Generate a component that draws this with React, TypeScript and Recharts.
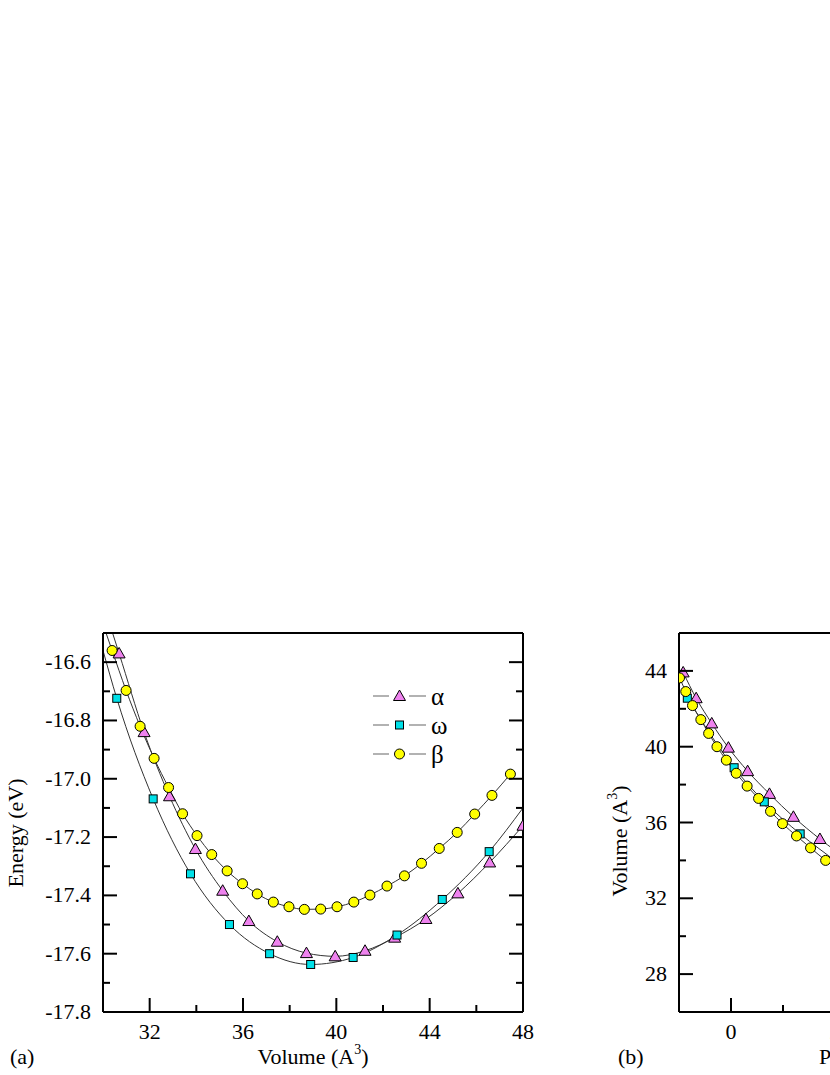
import React from "react"
import { ComposedChart, Line, Scatter, XAxis, YAxis, Legend } from "recharts"

const serif = "'Liberation Serif', 'Times New Roman', serif"

const seriesNames = ["α", "ω", "β"]
const fills = ["#EE82EE", "#00E0E8", "#FFFF00"]
const shapes = ["tri", "sq", "circ"]

// (a) energy (eV) vs volume (A^3)
const alphaVol = [30.69, 31.76, 32.85, 33.96, 35.13, 36.25, 37.47, 38.72, 39.95, 41.23, 42.5, 43.84, 45.21, 46.57, 48.0]
const alphaE = [-16.57, -16.84, -17.06, -17.241, -17.384, -17.488, -17.559, -17.598, -17.609, -17.59, -17.545, -17.481, -17.393, -17.287, -17.161]
const omegaVol = [30.59, 32.15, 33.75, 35.42, 37.14, 38.9, 40.72, 42.6, 44.54, 46.55]
const omegaE = [-16.724, -17.069, -17.326, -17.5, -17.6, -17.637, -17.613, -17.536, -17.414, -17.25]
const betaVol = [30.39, 30.99, 31.59, 32.19, 32.81, 33.41, 34.03, 34.66, 35.32, 35.98, 36.61, 37.3, 37.97, 38.63, 39.33, 40.03, 40.75, 41.44, 42.17, 42.92, 43.65, 44.41, 45.18, 45.93, 46.67, 47.46]
const betaE = [-16.56, -16.697, -16.82, -16.93, -17.03, -17.12, -17.195, -17.26, -17.316, -17.36, -17.395, -17.423, -17.439, -17.448, -17.447, -17.439, -17.423, -17.399, -17.368, -17.333, -17.29, -17.239, -17.184, -17.121, -17.057, -16.984]

// where the fitted curves run out of the frame
const alphaLeadIn = { x: 30.41, y: -16.5 }
const omegaLeadIn = { x: 30.0, y: -16.56 }
const omegaLeadOut = { x: 48.0, y: -17.1 }
const betaLeadIn = { x: 30.13, y: -16.5 }

const volTicks = [32, 34, 36, 38, 40, 42, 44, 46, 48]
const volLabels = [32, 36, 40, 44, 48]
const energyTicks = [-17.8, -17.7, -17.6, -17.5, -17.4, -17.3, -17.2, -17.1, -17.0, -16.9, -16.8, -16.7, -16.6]
const energyLabels = [-17.8, -17.6, -17.4, -17.2, -17.0, -16.8, -16.6]

// (b) volume (A^3) vs pressure
const alphaP = [-0.92, -0.67, -0.37, -0.05, 0.32, 0.74, 1.2, 1.71, 2.28]
const alphaV = [43.92, 42.56, 41.23, 39.95, 38.71, 37.51, 36.3, 35.13, 33.98]
const omegaP = [-0.84, 0.06, 0.64, 1.33, 2.05]
const omegaV = [42.56, 38.89, 37.09, 35.4, 33.9]
const betaP = [-0.99, -0.87, -0.74, -0.58, -0.43, -0.27, -0.09, 0.1, 0.31, 0.53, 0.76, 0.99, 1.26, 1.53, 1.82, 2.12]
const betaV = [43.63, 42.91, 42.17, 41.43, 40.7, 40.0, 39.29, 38.6, 37.92, 37.27, 36.59, 35.94, 35.29, 34.66, 34.0, 33.4]

const pTicks = [0, 1, 2, 3, 4, 5, 6, 7]
const pLabels = [0, 2, 4, 6]
const vTicks = [28, 30, 32, 34, 36, 38, 40, 42, 44]
const vLabels = [28, 32, 36, 40, 44]

const zip = (xs: number[], ys: number[]) => xs.map((x, i) => ({ x, y: ys[i] }))

const Marker = ({ kind, cx, cy, fill }: { kind: string; cx: number; cy: number; fill: string }) => {
  if (cx == null || cy == null) return null
  if (kind === "tri")
    return <path d={`M${cx},${cy - 6} L${cx + 6},${cy + 4.5} L${cx - 6},${cy + 4.5}Z`} fill={fill} stroke="#000" strokeWidth={1} />
  if (kind === "sq")
    return <rect x={cx - 4} y={cy - 4} width={8} height={8} fill={fill} stroke="#000" strokeWidth={1} />
  return <circle cx={cx} cy={cy} r={5} fill={fill} stroke="#000" strokeWidth={1} />
}

const isIn = (v: number, list: number[]) => list.some((m) => Math.abs(m - v) < 1e-6)

// inward ticks, labels only on major ticks
const makeTick = (side: string, labels: number[], fmt?: (v: number) => string) => (props: any) => {
  const { x, y, payload } = props
  const v = payload.value
  const major = isIn(v, labels)
  const len = major ? 14 : 7
  let line
  if (side === "bottom") line = <line x1={x} y1={y} x2={x} y2={y - len} stroke="#000" strokeWidth={2} />
  else if (side === "top") line = <line x1={x} y1={y} x2={x} y2={y + len} stroke="#000" strokeWidth={2} />
  else if (side === "left") line = <line x1={x} y1={y} x2={x + len} y2={y} stroke="#000" strokeWidth={2} />
  else line = <line x1={x} y1={y} x2={x - len} y2={y} stroke="#000" strokeWidth={2} />
  let text = null
  if (major && fmt && side === "bottom")
    text = <text x={x} y={y + 27} textAnchor="middle" fontSize={22} fontFamily={serif} fill="#000">{fmt(v)}</text>
  if (major && fmt && side === "left")
    text = <text x={x - 12} y={y + 7} textAnchor="end" fontSize={22} fontFamily={serif} fill="#000">{fmt(v)}</text>
  return <g>{line}{text}</g>
}

const LegendBox = () => (
  <svg width={100} height={90} style={{ display: "block" }}>
    {seriesNames.map((name, i) => {
      const cy = 16 + i * 29
      return (
        <g key={name}>
          <line x1={13} y1={cy} x2={29} y2={cy} stroke="#999" strokeWidth={1.5} />
          <line x1={49} y1={cy} x2={66} y2={cy} stroke="#999" strokeWidth={1.5} />
          <Marker kind={shapes[i]} cx={39.5} cy={cy} fill={fills[i]} />
          <text x={71} y={cy + 9} fontSize={25} fontFamily={serif} fill="#000">{name}</text>
        </g>
      )
    })}
  </svg>
)

const axisLine = { stroke: "#000", strokeWidth: 2 }

export default function App() {
  const leftCurves = [
    [alphaLeadIn, ...zip(alphaVol, alphaE)],
    [omegaLeadIn, ...zip(omegaVol, omegaE), omegaLeadOut],
    [betaLeadIn, ...zip(betaVol, betaE)],
  ]
  const leftPts = [zip(alphaVol, alphaE), zip(omegaVol, omegaE), zip(betaVol, betaE)]
  const rightPts = [zip(alphaP, alphaV), zip(omegaP, omegaV), zip(betaP, betaV)]

  return (
    <div style={{ position: "fixed", left: 0, top: 0, width: 830, height: 1075, overflow: "hidden", background: "#fff" }}>
      {/* (a) */}
      <div style={{ position: "absolute", left: 0, top: 600 }}>
        <ComposedChart width={560} height={475} margin={{ top: 0, right: 0, bottom: 0, left: 0 }}>
          <XAxis
            type="number" dataKey="x" domain={[30, 48]} allowDataOverflow ticks={volTicks} interval={0}
            height={63} tickSize={0} tickMargin={0} axisLine={axisLine}
            tick={makeTick("bottom", volLabels, (v) => String(v))}
            label={() => (
              <g fontFamily={serif} fontSize={22} fill="#000">
                <text x={10} y={464}>(a)</text>
                <text x={313} y={464} textAnchor="middle">
                  Volume (A<tspan dy={-10} fontSize={14}>3</tspan><tspan dy={10}>)</tspan>
                </text>
              </g>
            )}
          />
          <XAxis xAxisId="t" orientation="top" type="number" domain={[30, 48]} allowDataOverflow ticks={volTicks} interval={0}
            height={33} tickSize={0} tickMargin={0} axisLine={axisLine} tick={makeTick("top", volLabels)} />
          <YAxis
            type="number" domain={[-17.8, -16.5]} allowDataOverflow ticks={energyTicks} interval={0}
            width={103} tickSize={0} tickMargin={0} axisLine={axisLine}
            tick={makeTick("left", energyLabels, (v) => v.toFixed(1))}
            label={() => (
              <text x={23} y={233} transform="rotate(-90 23 233)" textAnchor="middle" fontFamily={serif} fontSize={22} fill="#000">
                Energy (eV)
              </text>
            )}
          />
          <YAxis yAxisId="r" orientation="right" type="number" domain={[-17.8, -16.5]} allowDataOverflow ticks={energyTicks} interval={0}
            width={37} tickSize={0} tickMargin={0} axisLine={axisLine} tick={makeTick("right", energyLabels)} />
          {leftCurves.map((d, i) => (
            <Line key={"c" + i} data={d} dataKey="y" type="monotone" stroke="#333" strokeWidth={1} dot={false} isAnimationActive={false} legendType="none" />
          ))}
          {leftPts.map((d, i) => (
            <Scatter key={"p" + i} name={seriesNames[i]} data={d} dataKey="y" isAnimationActive={false}
              shape={(p: any) => <Marker kind={shapes[i]} cx={p.cx} cy={p.cy} fill={fills[i]} />} />
          ))}
          <Legend layout="vertical" align="center" verticalAlign="middle" content={() => <LegendBox />}
            wrapperStyle={{ position: "absolute", left: 360, top: 80, width: 100, height: 90, margin: 0, padding: 0 }} />
        </ComposedChart>
      </div>

      {/* (b) */}
      <div style={{ position: "absolute", left: 576, top: 600 }}>
        <ComposedChart width={560} height={475} margin={{ top: 0, right: 0, bottom: 0, left: 0 }}>
          <XAxis
            type="number" dataKey="x" domain={[-1, 7]} allowDataOverflow ticks={pTicks} interval={0}
            height={63} tickSize={0} tickMargin={0} axisLine={axisLine}
            tick={makeTick("bottom", pLabels, (v) => String(v))}
            label={() => (
              <g fontFamily={serif} fontSize={22} fill="#000">
                <text x={42} y={464}>(b)</text>
                <text x={243} y={464}>Pressure (GPa)</text>
              </g>
            )}
          />
          <XAxis xAxisId="t" orientation="top" type="number" domain={[-1, 7]} allowDataOverflow ticks={pTicks} interval={0}
            height={33} tickSize={0} tickMargin={0} axisLine={axisLine} tick={makeTick("top", pLabels)} />
          <YAxis
            type="number" domain={[26, 46]} allowDataOverflow ticks={vTicks} interval={0}
            width={103} tickSize={0} tickMargin={0} axisLine={axisLine}
            tick={makeTick("left", vLabels, (v) => String(v))}
            label={() => (
              <text x={51} y={241} transform="rotate(-90 51 241)" textAnchor="middle" fontFamily={serif} fontSize={22} fill="#000">
                Volume (A<tspan dy={-10} fontSize={14}>3</tspan><tspan dy={10}>)</tspan>
              </text>
            )}
          />
          <YAxis yAxisId="r" orientation="right" type="number" domain={[26, 46]} allowDataOverflow ticks={vTicks} interval={0}
            width={41} tickSize={0} tickMargin={0} axisLine={axisLine} tick={makeTick("right", vLabels)} />
          {rightPts.map((d, i) => (
            <Line key={"c" + i} data={d} dataKey="y" type="monotone" stroke="#333" strokeWidth={1} dot={false} isAnimationActive={false} legendType="none" />
          ))}
          {rightPts.map((d, i) => (
            <Scatter key={"p" + i} name={seriesNames[i]} data={d} dataKey="y" isAnimationActive={false}
              shape={(p: any) => <Marker kind={shapes[i]} cx={p.cx} cy={p.cy} fill={fills[i]} />} />
          ))}
        </ComposedChart>
      </div>
    </div>
  )
}
